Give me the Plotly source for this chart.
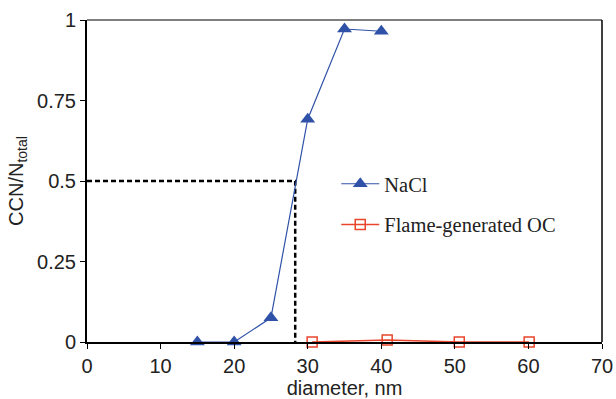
import plotly.graph_objects as go

# Data
nacl_x = [15, 20, 25, 30, 35, 40]
nacl_y = [0.0, 0.0, 0.075, 0.692, 0.972, 0.965]
oc_x = [30.6, 40.8, 50.6, 60.1]
oc_y = [0.0, 0.006, 0.0, 0.0]
d50_x = 28.3
d50_y = 0.5
x_ticks = [0, 10, 20, 30, 40, 50, 60, 70]
y_ticks = [0, 0.25, 0.5, 0.75, 1]
y_tick_labels = ["0", "0.25", "0.5", "0.75", "1"]

fig = go.Figure()

# dashed guide lines
fig.add_trace(go.Scatter(x=[0, d50_x, d50_x], y=[d50_y, d50_y, 0], mode="lines",
                         line=dict(color="black", width=2.5, dash="5px,3px"),
                         showlegend=False, hoverinfo="skip", cliponaxis=False))

fig.add_trace(go.Scatter(x=nacl_x, y=nacl_y, mode="lines+markers", name="NaCl",
                         line=dict(color="#2f52a8", width=1.2),
                         marker=dict(symbol="triangle-up", size=13, color="#2f52a8"),
                         cliponaxis=False, legendgroup="a"))
fig.add_trace(go.Scatter(x=oc_x, y=oc_y, mode="lines+markers", name="Flame-generated OC",
                         line=dict(color="#e8452c", width=1.5),
                         marker=dict(symbol="square-open", size=10, color="#e8452c", line=dict(width=1.5)),
                         cliponaxis=False, legendgroup="b"))

fig.update_layout(
    width=616, height=399,
    margin=dict(l=87, r=14, t=20, b=57, autoexpand=False),
    plot_bgcolor="white", paper_bgcolor="white",
    font=dict(family="Liberation Sans, Arial, sans-serif", size=18, color="#222"),
    legend=dict(x=0.484, y=0.553, xanchor="left", yanchor="top", itemwidth=38,
                font=dict(family="Liberation Serif, Times New Roman, serif", size=20.5, color="#222"),
                bgcolor="rgba(0,0,0,0)", tracegroupgap=11, traceorder="grouped"),
    showlegend=True,
)
fig.update_xaxes(range=[0, 70], tickvals=x_ticks, showgrid=False, zeroline=False,
                 showline=True, linecolor="black", linewidth=2, automargin=False,
                 ticks="outside", ticklen=5, tickcolor="black",
                 tickfont=dict(size=20),
                 title=dict(text="diameter, nm", font=dict(size=20), standoff=4))
fig.update_yaxes(range=[0, 1], tickvals=y_ticks, ticktext=y_tick_labels, showgrid=False, zeroline=False,
                 showline=True, linecolor="black", linewidth=2, automargin=False,
                 ticks="outside", ticklen=5, tickcolor="black",
                 tickfont=dict(size=20),
                 title=dict(text="CCN/N<sub>total</sub>", font=dict(size=20), standoff=8))

# top and right frame
fig.add_shape(type="line", xref="paper", yref="paper", x0=0, x1=1, y0=1, y1=1,
              line=dict(color="#555", width=1.5))
fig.add_shape(type="line", xref="paper", yref="paper", x0=1, x1=1, y0=0, y1=1,
              line=dict(color="black", width=1.5))

fig.write_html("out.html")
